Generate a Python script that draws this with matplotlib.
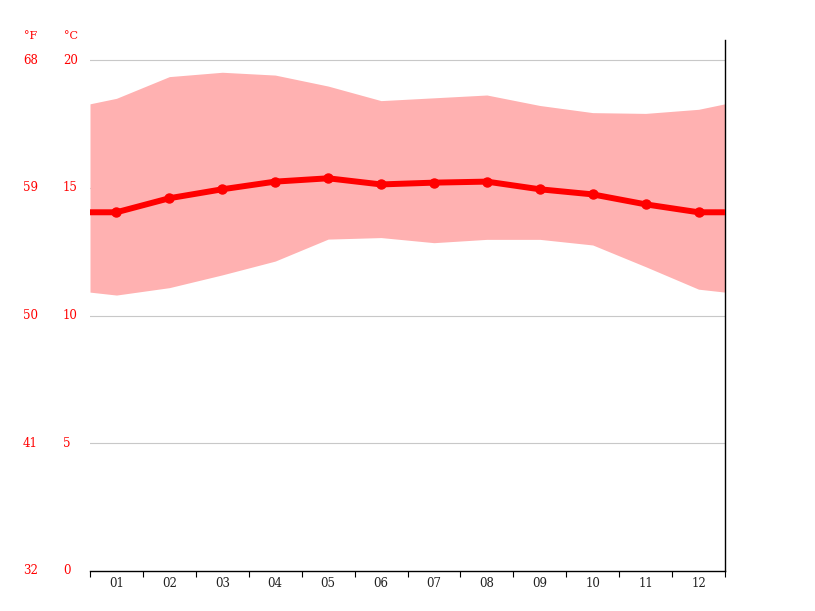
import numpy as np
import matplotlib
matplotlib.use('Agg')
import matplotlib.pyplot as plt

months = ['01', '02', '03', '04', '05', '06', '07', '08', '09', '10', '11', '12']
mean_c = [14.04, 14.59, 14.94, 15.24, 15.37, 15.13, 15.20, 15.24, 14.94, 14.74, 14.35, 14.04]
max_c = [18.50, 19.35, 19.52, 19.41, 18.98, 18.41, 18.52, 18.63, 18.22, 17.94, 17.91, 18.07]
min_c = [10.80, 11.09, 11.59, 12.13, 12.99, 13.05, 12.85, 12.98, 12.98, 12.76, 11.91, 11.03]
c_ticks = [0, 5, 10, 15, 20]
f_labels = ['32', '41', '50', '59', '68']

plt.rcParams['font.family'] = 'DejaVu Serif'

W, H = 815, 611
fig = plt.figure(figsize=(W / 100, H / 100), dpi=100)
left, right, bottom, top = 90, 725, 571, 40
ax = fig.add_axes([left / W, (H - bottom) / H, (right - left) / W, (bottom - top) / H])

x = np.arange(1, 13)
# wrap around year ends so the curves reach the plot edges
xe = np.concatenate([[0.5], x, [12.5]])
def wrap(v):
    e = (v[0] + v[-1]) / 2
    return np.concatenate([[e], v, [e]])

ax.fill_between(xe, wrap(min_c), wrap(max_c), color='#ffb1b1', lw=0, zorder=2)
ax.plot(xe, wrap(mean_c), color='#ff0000', lw=4.3, zorder=3, solid_capstyle='butt')
ax.plot(x, mean_c, 'o', color='#ff0000', ms=6.5, zorder=4)

ymax = (bottom - top) / 25.55
ax.set_xlim(0.5, 12.5)
ax.set_ylim(0, ymax)

for t in c_ticks[1:]:
    ax.axhline(t, color='#c8c8c8', lw=0.8, zorder=1)

for s in ['left', 'top']:
    ax.spines[s].set_visible(False)
ax.spines['right'].set_color('black')
ax.spines['right'].set_linewidth(1)
ax.spines['bottom'].set_color('black')
ax.spines['bottom'].set_linewidth(1)

ax.set_xticks(np.arange(0.5, 13, 1))
ax.set_xticklabels([])
ax.tick_params(axis='x', which='major', length=4, direction='out', color='black')
ax.set_xticks(x, minor=True)
ax.set_xticklabels(months, minor=True, fontsize=8.5, color='#222222')
ax.tick_params(axis='x', which='minor', length=0, pad=4)
ax.set_yticks([])

# temperature labels in figure pixels
for c, f in zip(c_ticks, f_labels):
    yp = bottom - c * 25.55
    fig.text(63 / W, 1 - yp / H, str(c), color='#ff0000', fontsize=8.5, va='center', ha='left')
    fig.text(23 / W, 1 - yp / H, f, color='#ff0000', fontsize=8.5, va='center', ha='left')
fig.text(24 / W, 1 - 36 / H, '°F', color='#ff0000', fontsize=8, va='center', ha='left')
fig.text(64 / W, 1 - 36 / H, '°C', color='#ff0000', fontsize=8, va='center', ha='left')

fig.savefig('out.png', dpi=100)
